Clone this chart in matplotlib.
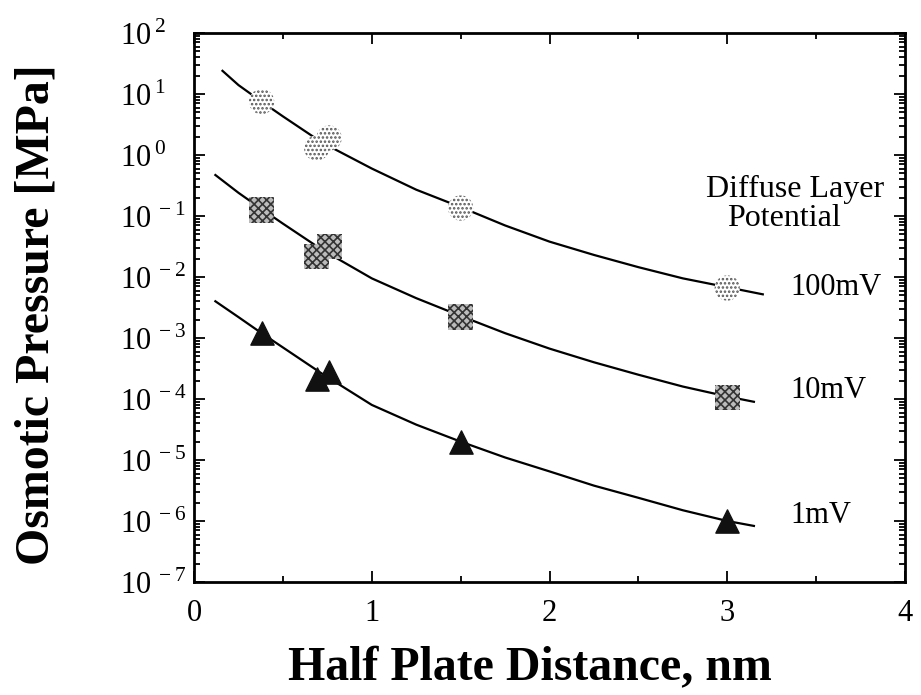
import numpy as np
import matplotlib
matplotlib.use('Agg')
import matplotlib.pyplot as plt
from matplotlib.ticker import LogLocator, FixedLocator, NullFormatter

plt.rcParams['font.family'] = ['Liberation Serif', 'DejaVu Serif']
plt.rcParams['mathtext.fontset'] = 'custom'
plt.rcParams['mathtext.rm'] = 'Liberation Serif'
plt.rcParams['hatch.linewidth'] = 1.2

# measured points (half plate distance nm, osmotic pressure MPa)
x_pts = [0.38, 0.69, 0.76, 1.5, 3.0]
p_100 = [7.5, 1.3, 1.9, 0.135, 0.0066]
p_10 = [0.125, 0.022, 0.032, 0.0022, 1.05e-4]
p_1 = [1.2e-3, 2.1e-4, 2.8e-4, 2.0e-5, 1.0e-6]

# theory curves
cx_100 = [0.16, 0.25, 0.38, 0.5, 0.72, 1.0, 1.25, 1.5, 1.75, 2.0, 2.25, 2.5, 2.75, 3.0, 3.2]
cy_100 = [24, 14, 7.5, 4.3, 1.6, 0.6, 0.27, 0.14, 0.07, 0.038, 0.023, 0.0145, 0.0095, 0.0068, 0.0052]
cx_10 = [0.12, 0.25, 0.38, 0.5, 0.72, 1.0, 1.25, 1.5, 1.75, 2.0, 2.25, 2.5, 2.75, 3.0, 3.15]
cy_10 = [0.47, 0.24, 0.13, 0.075, 0.028, 0.0095, 0.0045, 0.0023, 0.0012, 6.7e-4, 4.0e-4, 2.5e-4, 1.6e-4, 1.1e-4, 9.0e-5]
cx_1 = [0.12, 0.25, 0.38, 0.5, 0.72, 1.0, 1.25, 1.5, 1.75, 2.0, 2.25, 2.5, 2.75, 3.0, 3.15]
cy_1 = [4.0e-3, 2.2e-3, 1.2e-3, 7.0e-4, 2.6e-4, 8.0e-5, 3.8e-5, 2.0e-5, 1.1e-5, 6.5e-6, 3.8e-6, 2.4e-6, 1.5e-6, 1.0e-6, 8.3e-7]

labels = ['100mV', '10mV', '1mV']
label_y = [5.0e-3, 1.05e-4, 9.3e-7]
exps = list(range(-7, 3))

fig = plt.figure(figsize=(9.21, 6.95), dpi=100)
ax = fig.add_axes([0.2107, 0.1626, 0.7719, 0.7899])
ax.set_yscale('log')
ax.set_xlim(0, 4)
ax.set_ylim(1e-7, 1e2)

for cx, cy in [(cx_100, cy_100), (cx_10, cy_10), (cx_1, cy_1)]:
    ax.plot(cx, cy, color='black', lw=1.6, zorder=2)

ax.scatter(x_pts, p_100, s=330, marker='o', facecolor='white', edgecolor='#555555',
           linewidths=0, hatch='....', zorder=3)
ax.scatter(x_pts, p_10, s=330, marker='s', facecolor='#bbbbbb', edgecolor='#333333',
           linewidths=0, hatch='xxxx', zorder=3)
ax.scatter(x_pts, p_1, s=280, marker='^', facecolor='#111111', edgecolor='#111111',
           linewidths=1, zorder=3)

for lab, ly in zip(labels, label_y):
    ax.text(3.356, ly, lab, fontsize=22, va='baseline', ha='left')
ax.text(3.38, 0.204, 'Diffuse Layer', fontsize=23, ha='center', va='baseline')
ax.text(3.32, 0.069, 'Potential', fontsize=23, ha='center', va='baseline')

ax.xaxis.set_major_locator(FixedLocator([0, 1, 2, 3, 4]))
ax.xaxis.set_minor_locator(FixedLocator([0.5, 1.5, 2.5, 3.5]))
ax.yaxis.set_minor_locator(LogLocator(base=10, subs=np.arange(2, 10), numticks=20))
ax.yaxis.set_minor_formatter(NullFormatter())
ax.set_yticks([10.0**e for e in exps])
ax.set_yticklabels(['10$^{\\,%d}$' % e for e in exps])
for lbl in ax.get_yticklabels():
    lbl.set_horizontalalignment('left')

ax.tick_params(which='both', direction='in', top=True, right=True, labelsize=22, width=1.3)
ax.tick_params(which='major', length=8)
ax.tick_params(which='minor', length=4)
ax.tick_params(axis='x', pad=12)
ax.tick_params(axis='y', pad=53)
for s in ax.spines.values():
    s.set_linewidth(2)

ax.set_xlabel('Half Plate Distance, nm', fontsize=34.5, fontweight='bold')
ax.set_ylabel('Osmotic Pressure [MPa]', fontsize=34.5, fontweight='bold')
ax.xaxis.set_label_coords(0.4726, -0.1166)
ax.yaxis.set_label_coords(-0.191, 0.487)

fig.savefig('out.png', dpi=100)
